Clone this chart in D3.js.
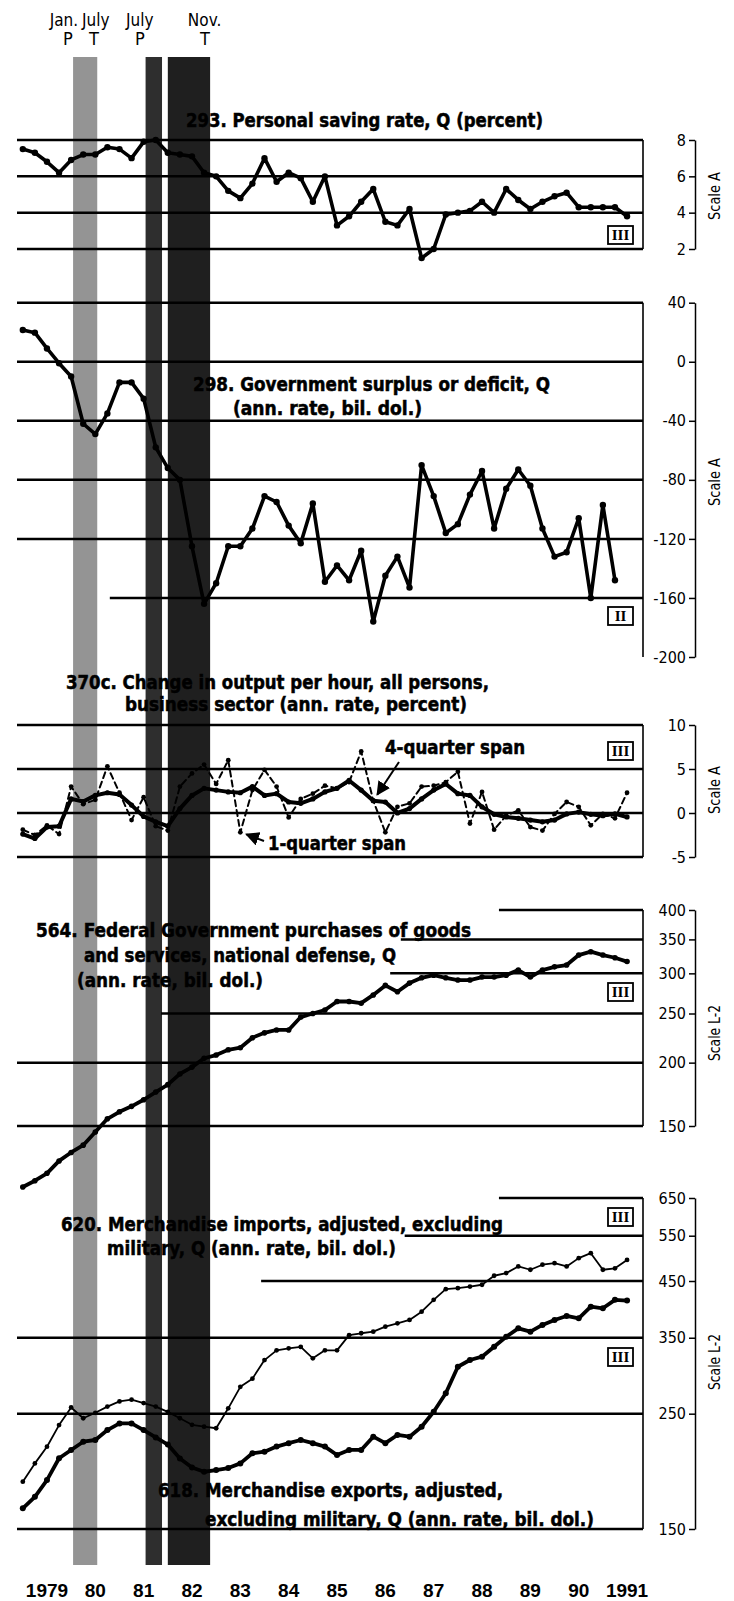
<!DOCTYPE html>
<html><head><meta charset="utf-8">
<script src="https://cdn.jsdelivr.net/npm/d3@7"></script>
<style>
body{margin:0;background:#fff;}
svg{display:block;}
text{font-family:"Liberation Sans Narrow","Arial Narrow","DejaVu Sans Condensed","Liberation Sans",sans-serif;fill:#000;}
</style></head><body>
<svg id="chart" width="734" height="1601"></svg>
<script>
// ---------- DATA ----------
const startYear = 1979; // first quarter plotted: 1979 Q1
const yearLabels = ["1979","80","81","82","83","84","85","86","87","88","89","90","1991"];
const turningMonths = ["Jan.","July","July","Nov."];
const turningTypes = ["P","T","P","T"];
const turningMonthDates = [1979.85, 1980.51, 1981.42, 1982.76];
const turningTypeDates = [1979.935, 1980.47, 1981.42, 1982.77];
const recessionBands = [[1980.04,1980.54],[1981.54,1981.88],[1982.0,1982.875]];

const savingRate = [7.5,7.3,6.8,6.2,6.9,7.2,7.2,7.6,7.5,7.0,7.9,8.0,7.3,7.2,7.1,6.2,6.0,5.2,4.8,5.6,7.0,5.7,6.2,5.9,4.6,6.0,3.3,3.8,4.6,5.3,3.5,3.3,4.2,1.5,2.0,3.9,4.0,4.1,4.6,4.0,5.3,4.7,4.2,4.6,4.9,5.1,4.3,4.3,4.3,4.3,3.8];
const govSurplus = [21.5,19.7,9,-1,-10,-42,-49,-35,-14,-14,-25,-58,-72,-80,-125,-164,-150,-125,-125,-113,-91,-95,-111,-123,-96,-149,-138,-148,-128,-176,-145,-132,-153,-70,-91,-116,-110,-90,-74,-113,-86,-73,-84,-113,-132,-129,-106,-160,-97,-148];
const outputOneQ = [-1.9,-2.5,-1.4,-2.4,3.0,1.0,1.5,5.3,2.3,-0.8,1.8,-1.5,-2.0,3.0,4.5,5.5,3.3,6.0,-2.2,2.6,4.9,3.0,-0.5,1.6,2.2,3.1,2.8,3.5,7.0,1.4,-2.2,0.7,1.1,3.0,3.1,3.5,4.7,-1.2,2.4,-1.9,-0.3,0.3,-1.6,-2.0,-0.1,1.25,0.7,-1.4,-0.1,-0.6,2.3];
const outputFourQ = [-2.4,-2.9,-1.6,-1.5,1.6,1.3,2.0,2.3,2.1,0.9,-0.4,-1.0,-1.5,0.5,2.0,2.8,2.6,2.4,2.3,3.0,2.0,2.2,1.25,1.1,1.6,2.4,2.8,3.7,2.6,1.4,1.25,0.0,0.5,1.6,2.6,3.3,2.2,2.0,0.7,-0.15,-0.45,-0.6,-0.8,-1.0,-0.8,-0.1,0.1,-0.15,-0.3,-0.1,-0.45];
const defensePurchases = [113.7,117,121,128,133,137.5,146,155,160,164,169,175,181,190,196,204,207,212,214,224,229,232,232,246,250,254,264,264,262,272,284,276,287,294,297.5,294,291,291,295,295,297.5,304.5,295,304.5,309,311.5,326,331,326,322,316.5];
const importsMerch = [185,200.6,216,237.7,257,245,251,258,264,266,262,258,252,245,238,236,234.4,256,281.6,292,317,331,334,336,319.5,331,331,354,357,359.5,367.6,373,378.7,392.8,414,434,436,439,442.6,460.6,466,480,473,483.7,487,480,498,509,473,476,494];
const exportsMerch = [164.4,173,186.3,205.2,212.9,220.8,222.5,232.5,239.5,239.5,232.5,225,218,205,197,193.3,194.8,196.5,200.6,209.8,211.3,216.1,219.4,222.5,219.4,216.1,208.2,212.9,212.9,225.8,219.4,227.5,225.8,236,252.2,273.6,307.8,317.1,321.8,336.4,351.6,364.9,359.5,370.4,378.7,385.4,381.5,401.6,398.8,414,412.7];

const savingTicks = [8,6,4,2];
const govTicks = [40,0,-40,-80,-120,-160,-200];
const outputTicks = [10,5,0,-5];
const defenseTicks = [400,350,300,250,200,150];
const tradeTicks = [650,550,450,350,250,150];

// ---------- LAYOUT ----------
const svg = d3.select("#chart");
const x = d3.scaleLinear().domain([1978.88, 1991.83]).range([17, 643]);
const qt = i => startYear + i/4;
const xRight = x.range()[1];
const axisX = 695;
const narrow = '"Liberation Sans Narrow","Arial Narrow","DejaVu Sans Condensed","Liberation Sans",sans-serif';

const panels = [
  {y: d3.scaleLinear([2,8],[249,140]), ticks: savingTicks, grid: savingTicks.map(v=>({v})), scale:"Scale A", scaleY:196, roman:"III", romanY:226},
  {y: d3.scaleLinear([-200,40],[657,302.7]), ticks: govTicks, grid: [{v:40},{v:0},{v:-40},{v:-80},{v:-120},{v:-160,from:1980.8}], scale:"Scale A", scaleY:482, roman:"II", romanY:607},
  {y: d3.scaleLinear([-5,10],[857,725]), ticks: outputTicks, grid: outputTicks.map(v=>({v})), scale:"Scale A", scaleY:790, roman:"III", romanY:742},
  {y: d3.scaleLog([150,400],[1126,910]), ticks: defenseTicks, grid: [{v:400,from:1988.85},{v:350,from:1986.82},{v:300,from:1986.6},{v:250,from:1981.86},{v:200},{v:150}], scale:"Scale L-2", scaleY:1033, roman:"III", romanY:983},
  {y: d3.scaleLog([150,650],[1529,1198]), ticks: tradeTicks, grid: [{v:650,from:1988.85},{v:550,from:1986.9},{v:450,from:1983.93},{v:350},{v:250},{v:150}], scale:"Scale L-2", scaleY:1362, roman:"III", romanY:1208}
];

const titles = [
  {t:"293. Personal saving rate, Q (percent)", x0:186, x1:543, y:127},
  {t:"298. Government surplus or deficit, Q", x0:193, x1:550, y:391},
  {t:"(ann. rate, bil. dol.)", x0:233, x1:422, y:415},
  {t:"370c. Change in output per hour, all persons,", x0:66, x1:489, y:689},
  {t:"business sector (ann. rate, percent)", x0:125, x1:467, y:711},
  {t:"564. Federal Government purchases of goods", x0:36, x1:471, y:937},
  {t:"and services, national defense, Q", x0:84, x1:396, y:962},
  {t:"(ann. rate, bil. dol.)", x0:77, x1:263, y:987},
  {t:"620. Merchandise imports, adjusted, excluding", x0:61, x1:503, y:1231},
  {t:"military, Q (ann. rate, bil. dol.)", x0:107, x1:396, y:1255},
  {t:"618. Merchandise exports, adjusted,", x0:158, x1:503, y:1497},
  {t:"excluding military, Q (ann. rate, bil. dol.)", x0:205, x1:594, y:1526}
];

const gGrid = svg.append("g");
const gText = svg.append("g");
const gData = svg.append("g");
const gBands = svg.append("g");
const gAxes = svg.append("g");

function romanBox(label, yTop){
  const w = 25, h = 18, xr = 633;
  gGrid.append("rect").attr("x",xr-w).attr("y",yTop).attr("width",w).attr("height",h)
    .attr("fill","#fff").attr("stroke","#000").attr("stroke-width",1.8);
  gGrid.append("text").attr("x",xr-w/2).attr("y",yTop+h-4).attr("text-anchor","middle")
    .attr("font-size",15).attr("font-weight","bold")
    .style("font-family",'"Liberation Serif","DejaVu Serif",serif')
    .text(label);
}

// gridlines, frame, right axis, scale labels, roman boxes
panels.forEach(p => {
  p.grid.forEach(gl => {
    gGrid.append("line")
      .attr("x1", gl.from ? x(gl.from) : x.range()[0]).attr("x2", xRight)
      .attr("y1", p.y(gl.v)).attr("y2", p.y(gl.v))
      .attr("stroke","#000").attr("stroke-width",2.5);
  });
  const r = p.y.range();
  gGrid.append("line").attr("x1",xRight).attr("x2",xRight).attr("y1",r[0]).attr("y2",r[1])
    .attr("stroke","#000").attr("stroke-width",1.6);
  const ax = gAxes.append("g").attr("transform",`translate(${axisX},0)`)
    .call(d3.axisLeft(p.y).tickValues(p.ticks).tickSize(6).tickPadding(3).tickSizeOuter(0).tickFormat(d=>String(d)));
  ax.select(".domain").attr("stroke","#000").attr("stroke-width",1.5);
  ax.selectAll(".tick line").attr("stroke","#000").attr("stroke-width",1.5);
  ax.selectAll(".tick text").attr("font-size",16).attr("fill","#000").style("font-family",narrow);
  gAxes.append("text").attr("transform",`translate(720,${p.scaleY}) rotate(-90)`)
    .attr("text-anchor","middle").attr("font-size",15)
    .attr("textLength", p.scale.length > 7 ? 56 : 48).attr("lengthAdjust","spacingAndGlyphs")
    .text(p.scale);
  romanBox(p.roman, p.romanY);
});
// second roman box in trade panel
romanBox("III", 1348);

// titles
titles.forEach(d => {
  gText.append("text").attr("x",d.x0).attr("y",d.y).attr("font-size",19).attr("font-weight","bold")
    .attr("stroke","#000").attr("stroke-width",0.5)
    .attr("textLength", d.x1-d.x0).attr("lengthAdjust","spacingAndGlyphs").text(d.t);
});

// series drawing
function series(data, y, opt){
  const line = d3.line().x((d,i)=>x(qt(i))).y(d=>y(d));
  gData.append("path").datum(data).attr("d",line).attr("fill","none").attr("stroke","#000")
    .attr("stroke-width",opt.w).attr("stroke-linejoin","round").attr("stroke-linecap","round")
    .attr("stroke-dasharray",opt.dash || null);
  gData.selectAll(null).data(data).enter().append("circle")
    .attr("cx",(d,i)=>x(qt(i))).attr("cy",d=>y(d)).attr("r",opt.r).attr("fill","#000");
}
series(savingRate, panels[0].y, {w:3.6, r:3.2});
series(govSurplus, panels[1].y, {w:3.6, r:3.2});
series(outputOneQ, panels[2].y, {w:2, r:2.4, dash:"6,4"});
series(outputFourQ, panels[2].y, {w:4, r:2.6});
series(defensePurchases, panels[3].y, {w:3.8, r:2.8});
series(importsMerch, panels[4].y, {w:1.8, r:2.4});
series(exportsMerch, panels[4].y, {w:3.8, r:3});

// span labels and arrows
const defs = svg.append("defs");
defs.append("marker").attr("id","ah").attr("viewBox","0 0 10 10").attr("refX",9).attr("refY",5)
  .attr("markerWidth",7).attr("markerHeight",7).attr("orient","auto")
  .append("path").attr("d","M0,0L10,5L0,10z").attr("fill","#000");
gText.append("text").attr("x",385).attr("y",754).attr("font-size",19).attr("font-weight","bold")
  .attr("stroke","#000").attr("stroke-width",0.5)
  .attr("textLength",140).attr("lengthAdjust","spacingAndGlyphs").text("4-quarter span");
gText.append("text").attr("x",268).attr("y",850).attr("font-size",19).attr("font-weight","bold")
  .attr("stroke","#000").attr("stroke-width",0.5)
  .attr("textLength",138).attr("lengthAdjust","spacingAndGlyphs").text("1-quarter span");
const p3 = panels[2].y;
gText.append("line").attr("x1",399).attr("y1",762)
  .attr("x2",x(qt(29))+4).attr("y2",p3(outputFourQ[29])-6)
  .attr("stroke","#000").attr("stroke-width",2).attr("marker-end","url(#ah)");
gText.append("line").attr("x1",264).attr("y1",841)
  .attr("x2",x(qt(18))+6).attr("y2",p3(outputOneQ[18])+2)
  .attr("stroke","#000").attr("stroke-width",2).attr("marker-end","url(#ah)");

// recession shading (drawn over the chart as in the print)
const bandOpacity = [0.42, 0.82, 0.88];
recessionBands.forEach((b,i) => {
  gBands.append("rect").attr("x",x(b[0])).attr("width",x(b[1])-x(b[0]))
    .attr("y",57).attr("height",1565-57).attr("fill","#000").attr("opacity",bandOpacity[i]);
});

// turning point labels
turningMonths.forEach((m,i) => {
  gAxes.append("text").attr("x",x(turningMonthDates[i])).attr("y",26).attr("text-anchor","middle")
    .attr("font-size",17).text(m);
  gAxes.append("text").attr("x",x(turningTypeDates[i])).attr("y",45).attr("text-anchor","middle")
    .attr("font-size",18).text(turningTypes[i]);
});

// year labels
yearLabels.forEach((yl,i) => {
  gAxes.append("text").attr("x",x(startYear+i+0.5)).attr("y",1597).attr("text-anchor","middle")
    .attr("font-size",19).attr("font-weight","bold")
    .style("font-family",'"Liberation Sans",Arial,sans-serif').text(yl);
});
</script>
</body></html>
